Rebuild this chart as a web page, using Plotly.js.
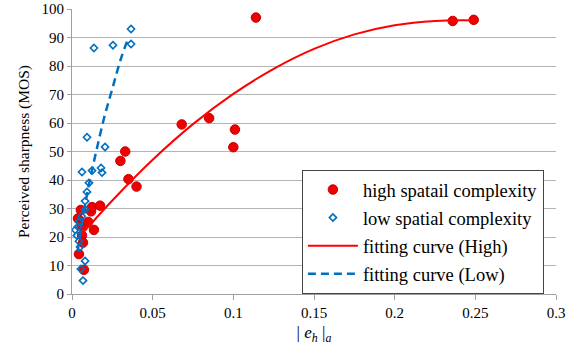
<!DOCTYPE html>
<html>
<head>
<meta charset="utf-8">
<script src="https://cdn.plot.ly/plotly-3.0.1.min.js"></script>
<style>html,body{margin:0;padding:0;background:#fff;}#chart{width:580px;height:358px;}</style>
</head>
<body>
<div id="chart"></div>
<script>
// High spatial complexity samples
const highX = [0.0037,0.0043,0.0055,0.006,0.0062,0.0068,0.0074,0.010,0.0118,0.0124,0.0136,0.0174,0.030,0.033,0.035,0.040,0.068,0.085,0.100,0.101,0.114,0.236,0.249];
const highY = [26.5,14,29.5,24,20.5,18,8.5,25.3,29,30.5,22.5,31,46.7,50,40.3,37.7,59.5,61.7,51.5,57.7,97,95.8,96.2];
// Low spatial complexity samples
const lowX = [0.0366,0.0136,0.0254,0.0366,0.0093,0.0205,0.0062,0.0124,0.018,0.0186,0.0105,0.0093,0.0081,0.0081,0.006,0.0043,0.0037,0.002,0.003,0.0043,0.005,0.0081,0.0055,0.0068];
const lowY = [93,86.3,87.3,87.7,55,51.6,42.8,43.3,44.2,42.6,39,35.8,32.6,29.7,27.3,25.3,23.6,22.5,20.5,18.5,16.5,11.6,8.8,4.7];
// Fitting curves
const fitHighX = [0.005,0.025,0.05,0.075,0.1,0.125,0.15,0.175,0.2,0.225,0.249];
const fitHighY = [20.3,32.8,47.1,59.6,70.2,79.0,86.0,91.1,94.3,95.8,96.0];
const fitLowX = [0.0035,0.006,0.01,0.015,0.02,0.025,0.03,0.035];
const fitLowY = [15,24,37,50,62,72,82,90];
const names = ['high spatail complexity','low spatial complexity','fitting curve (High)','fitting curve (Low)'];
const yTicks = [0,10,20,30,40,50,60,70,80,90,100];
const xTicks = [0,0.05,0.1,0.15,0.2,0.25,0.3];
const xTickText = ['0','0.05','0.1','0.15','0.2','0.25','0.3'];

const serif = "'Liberation Serif', 'Times New Roman', 'DejaVu Serif', serif";
const traces = [
  {x: highX, y: highY, mode: 'markers', type: 'scatter', name: names[0], legendgroup: 'a',
   marker: {symbol: 'circle', size: 9.5, color: '#ee0000', line: {color: '#c80000', width: 1}}},
  {x: lowX, y: lowY, mode: 'markers', type: 'scatter', name: names[1], legendgroup: 'b',
   marker: {symbol: 'diamond-open', size: 5.5, color: '#0070c0', line: {color: '#0070c0', width: 1.6}}},
  {x: fitHighX, y: fitHighY, mode: 'lines', type: 'scatter', name: names[2], legendgroup: 'c',
   line: {color: '#ff0000', width: 2, shape: 'spline'}},
  {x: fitLowX, y: fitLowY, mode: 'lines', type: 'scatter', name: names[3], legendgroup: 'd',
   line: {color: '#0070c0', width: 2.5, dash: '8px,5px', shape: 'spline'}}
];
const layout = {
  width: 580, height: 358,
  margin: {l: 72, r: 24, t: 9, b: 64},
  paper_bgcolor: '#fff', plot_bgcolor: '#fff',
  font: {family: serif, size: 13, color: '#000'},
  showlegend: true,
  legend: {x: 0.475, y: 0, xanchor: 'left', yanchor: 'bottom', traceorder: 'grouped',
    bgcolor: '#fff', bordercolor: '#444', borderwidth: 1,
    font: {family: serif, size: 18.5, color: '#000'}, tracegroupgap: 1, itemwidth: 50},
  xaxis: {range: [0, 0.3], tickvals: xTicks, ticktext: xTickText, showgrid: false, zeroline: false,
    showline: true, linecolor: '#a0a0a0', linewidth: 1, ticks: 'outside', ticklen: 5, tickcolor: '#a0a0a0',
    tickfont: {family: serif, size: 15}, title: {text: '| <i>e</i><sub><i>h</i></sub> |<sub><i>a</i></sub>', font: {family: serif, size: 17}, standoff: 6}},
  yaxis: {range: [0, 100], tickvals: yTicks, showgrid: true, gridcolor: '#b4b4b4', gridwidth: 1, zeroline: false,
    showline: true, linecolor: '#a0a0a0', linewidth: 1, ticks: 'outside', ticklen: 4, tickcolor: '#a0a0a0',
    tickfont: {family: serif, size: 15}, title: {text: 'Perceived sharpness (MOS)', font: {family: serif, size: 15.5}, standoff: 8}}
};
Plotly.newPlot('chart', traces, layout, {displayModeBar: false, staticPlot: true});
</script>
</body>
</html>
